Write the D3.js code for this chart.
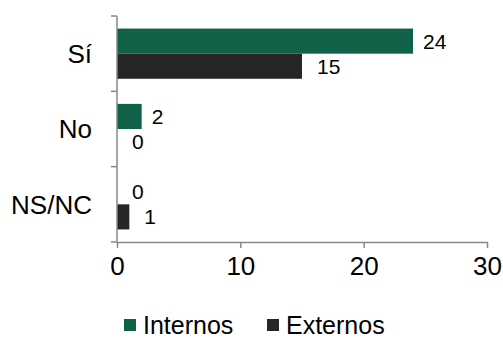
<!DOCTYPE html>
<html>
<head>
<meta charset="utf-8">
<script src="https://cdn.jsdelivr.net/npm/d3@7"></script>
<style>
  html, body { margin: 0; padding: 0; background: #fff; }
  svg { display: block; font-family: "Liberation Sans", Arial, sans-serif; }
</style>
</head>
<body>
<svg id="chart" width="503" height="338"></svg>
<script>
// Responses by category, one array per group
const categories = ["Sí", "No", "NS/NC"];
const seriesNames = ["Internos", "Externos"];
const internos = [24, 2, 0];
const externos = [15, 0, 1];
const xTicks = [0, 10, 20, 30];

const colors = { Internos: "#0f6147", Externos: "#262626" };
const axisColor = "#898989";

const svg = d3.select("#chart");
const plot = { left: 117, right: 487, top: 16, bottom: 242 };

const x = d3.scaleLinear().domain([0, 30]).range([plot.left, plot.right]);
const y = d3.scaleBand().domain(categories).range([plot.top, plot.bottom])
  .paddingInner(1 / 3).paddingOuter(1 / 6);
const ySub = d3.scaleBand().domain(seriesNames).range([0, y.bandwidth()]);

const rows = categories.map((c, i) => ({
  category: c,
  values: [
    { series: "Internos", value: internos[i] },
    { series: "Externos", value: externos[i] }
  ]
}));

// Bars
const groups = svg.append("g").selectAll("g").data(rows).join("g")
  .attr("transform", d => `translate(0,${y(d.category)})`);

groups.selectAll("rect").data(d => d.values.filter(v => v.value > 0)).join("rect")
  .attr("x", x(0))
  .attr("y", d => ySub(d.series))
  .attr("width", d => x(d.value) - x(0))
  .attr("height", ySub.bandwidth())
  .attr("fill", d => colors[d.series]);

// Value labels just past the end of each bar
const labelGap = d => (d.series === "Internos" && d.value > 0) ? 10 : 15;
groups.selectAll("text").data(d => d.values).join("text")
  .attr("x", d => x(d.value) + labelGap(d))
  .attr("y", d => ySub(d.series) + ySub.bandwidth() / 2)
  .attr("dy", "0.36em")
  .attr("font-size", 21)
  .attr("fill", "#000")
  .text(d => d.value);

// Category axis (left): line with ticks between groups
const yAxisG = svg.append("g");
yAxisG.append("line")
  .attr("x1", plot.left).attr("x2", plot.left)
  .attr("y1", plot.top).attr("y2", plot.bottom)
  .attr("stroke", axisColor).attr("stroke-width", 1.5);
const boundaries = categories.map(c => y(c) - y.step() * y.paddingInner() / 2)
  .concat([plot.bottom]);
yAxisG.selectAll("line.tick").data(boundaries).join("line")
  .attr("class", "tick")
  .attr("x1", plot.left - 6).attr("x2", plot.left)
  .attr("y1", d => d).attr("y2", d => d)
  .attr("stroke", axisColor).attr("stroke-width", 1.5);
yAxisG.selectAll("text").data(categories).join("text")
  .attr("x", 92)
  .attr("y", d => y(d) + y.bandwidth() / 2)
  .attr("dy", "0.36em")
  .attr("text-anchor", "end")
  .attr("font-size", 26)
  .attr("fill", "#000")
  .text(d => d);

// Value axis (bottom)
const xAxis = d3.axisBottom(x).tickValues(xTicks).tickSize(6).tickSizeOuter(0).tickPadding(9);
const xAxisG = svg.append("g")
  .attr("transform", `translate(0,${plot.bottom})`)
  .call(xAxis);
xAxisG.select(".domain").attr("stroke", axisColor).attr("stroke-width", 1.5);
xAxisG.selectAll(".tick line").attr("stroke", axisColor).attr("stroke-width", 1.5);
xAxisG.selectAll(".tick text")
  .attr("font-size", 26)
  .attr("font-family", "'Liberation Sans', Arial, sans-serif")
  .attr("fill", "#000");

// Legend
const legend = svg.append("g").attr("transform", "translate(124,325)");
const legendX = [0, 143];
const items = legend.selectAll("g").data(seriesNames).join("g")
  .attr("transform", (d, i) => `translate(${legendX[i]},0)`);
items.append("rect")
  .attr("x", 0).attr("y", -6)
  .attr("width", 12).attr("height", 12)
  .attr("fill", d => colors[d]);
items.append("text")
  .attr("x", 19).attr("y", 0)
  .attr("dy", "0.34em")
  .attr("font-size", 25)
  .attr("fill", "#000")
  .text(d => d);
</script>
</body>
</html>
